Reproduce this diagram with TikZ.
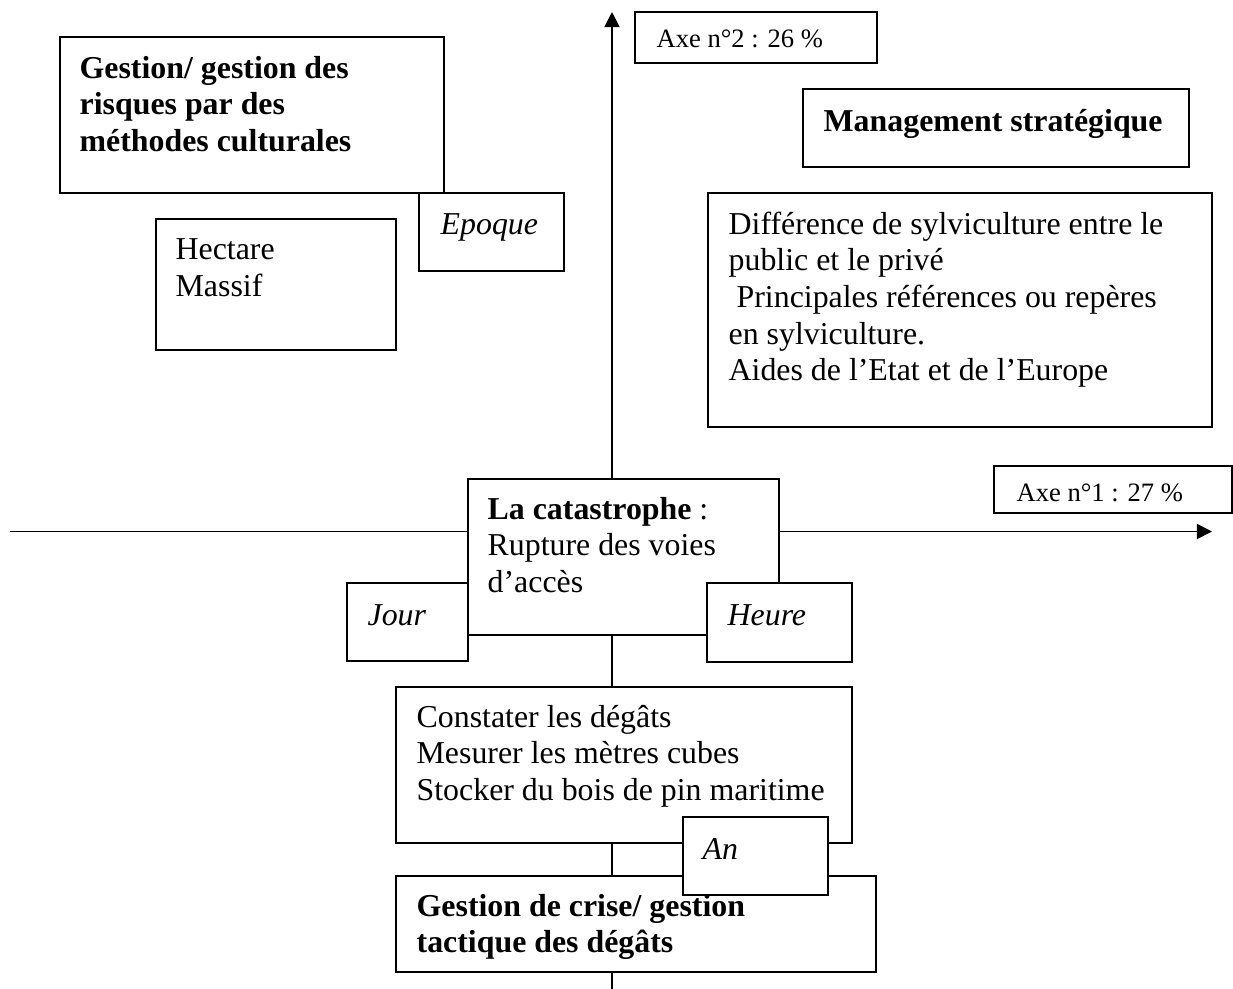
\documentclass[tikz,border=0pt]{standalone}
\usepackage{fontspec}
\setmainfont{Liberation Serif}
\usetikzlibrary{arrows.meta,fit}
\begin{document}
\begin{tikzpicture}[x=0.3766pt,y=-0.3766pt,
  box/.style={rectangle,draw=black,line width=0.65pt,fill=white,inner sep=0pt},
  txt/.style={anchor=base west,inner sep=0pt,font=\fontsize{12}{13.8}\selectfont},
  smalltxt/.style={anchor=base west,inner sep=0pt,font=\fontsize{10}{11.5}\selectfont},
  axisline/.style={line width=0.7pt,-{Triangle[length=5.7pt,width=5.7pt]}}]
\useasboundingbox (0,0) rectangle (1233,989);

% axes
\coordinate (xl) at (10,531.5);
\coordinate (xr) at (1212,531.5);
\coordinate (yb) at (612,989);
\coordinate (yt) at (612,12);
\draw[axisline] (xl) -- (xr);
\draw[axisline] (yb) -- (yt);

% frames
\node[box,fit={(635,12) (877,63)}] (axe2) {};
\node[box,fit={(994,466) (1232,513)}] (axe1) {};
\node[box,fit={(60,37) (444,193)}] (gest) {};
\node[box,fit={(419,193) (564,271)}] (epoq) {};
\node[box,fit={(156,219) (396,350)}] (hect) {};
\node[box,fit={(803,89) (1189,167)}] (mgmt) {};
\node[box,fit={(708,193) (1212,427)}] (diff) {};
\node[box,fit={(468,479) (779,635)}] (cata) {};
\node[box,fit={(347,583) (468,661)}] (jour) {};
\node[box,fit={(707,583) (852,662)}] (heure) {};
\node[box,fit={(396,687) (852,843)}] (cons) {};
\node[box,fit={(396,876) (876,972)}] (crise) {};
\node[box,fit={(683,817) (828,895)}] (an) {};

% texts
\node[smalltxt] (axe2-t) at ([shift={(22,36)}]axe2.north west) {Axe n°2 : 26 \%};
\node[smalltxt] (axe1-t) at ([shift={(23,36)}]axe1.north west) {Axe n°1 : 27 \%};
\node[txt,font=\fontsize{12}{13.8}\selectfont\bfseries] (gest-t) at ([shift={(20,42)}]gest.north west)
  {\begin{tabular}[t]{@{}l@{}}Gestion/ gestion des\\risques par des\\méthodes culturales\end{tabular}};
\node[txt,font=\fontsize{12}{13.8}\selectfont\itshape] (epoq-t) at ([shift={(22,42)}]epoq.north west) {Epoque};
\node[txt] (hect-t) at ([shift={(20,41.5)}]hect.north west)
  {\begin{tabular}[t]{@{}l@{}}Hectare\\Massif\end{tabular}};
\node[txt,font=\fontsize{12}{13.8}\selectfont\bfseries] (mgmt-t) at ([shift={(21,43)}]mgmt.north west) {Management stratégique};
\node[txt] (diff-t) at ([shift={(21,42)}]diff.north west)
  {\begin{tabular}[t]{@{}l@{}}Différence de sylviculture entre le\\public et le privé\\\ Principales références ou repères\\en sylviculture.\\Aides de l’Etat et de l’Europe\end{tabular}};
\node[txt] (cata-t) at ([shift={(20,41)}]cata.north west)
  {\begin{tabular}[t]{@{}l@{}}\textbf{La catastrophe} :\\Rupture des voies\\d’accès\end{tabular}};
\node[txt,font=\fontsize{12}{13.8}\selectfont\itshape] (jour-t) at ([shift={(21,43)}]jour.north west) {Jour};
\node[txt,font=\fontsize{12}{13.8}\selectfont\itshape] (heure-t) at ([shift={(21,43)}]heure.north west) {Heure};
\node[txt] (cons-t) at ([shift={(21,41)}]cons.north west)
  {\begin{tabular}[t]{@{}l@{}}Constater les dégâts\\Mesurer les mètres cubes\\Stocker du bois de pin maritime\end{tabular}};
\node[txt,font=\fontsize{12}{13.8}\selectfont\itshape] (an-t) at ([shift={(20,43)}]an.north west) {An};
\node[txt,font=\fontsize{12}{13.8}\selectfont\bfseries] (crise-t) at ([shift={(21,41)}]crise.north west)
  {\begin{tabular}[t]{@{}l@{}}Gestion de crise/ gestion\\tactique des dégâts\end{tabular}};
\end{tikzpicture}
\end{document}
